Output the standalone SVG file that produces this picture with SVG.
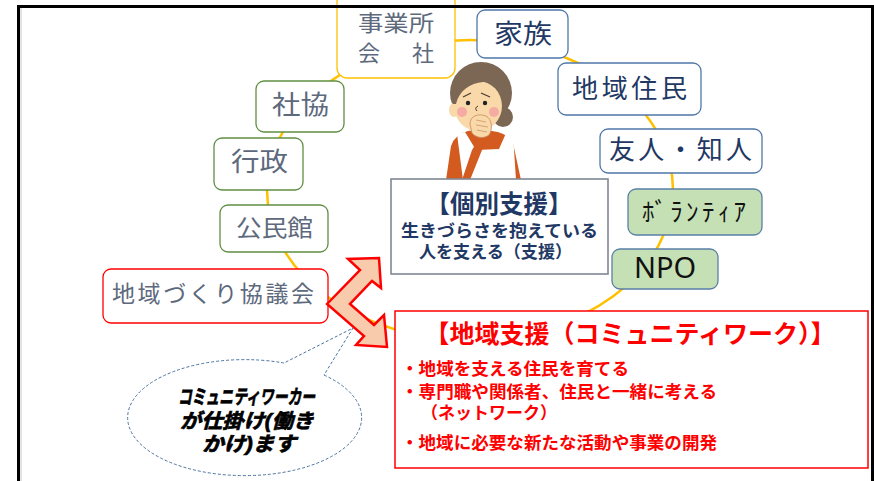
<svg xmlns="http://www.w3.org/2000/svg" width="874" height="481" viewBox="0 0 874 481">
  <style>
    .jp { font-family: "Liberation Sans", "Noto Sans CJK JP", sans-serif; }
    .box-gray { fill: #ffffff; stroke: #ffc000; stroke-width: 1.3; }
    .box-green { fill: #ffffff; stroke: #5f8f40; stroke-width: 1.3; }
    .box-blue { fill: #ffffff; stroke: #4f77a8; stroke-width: 1.3; }
    .box-fill-green { fill: #c5e0b4; stroke: #5a7fa8; stroke-width: 1.3; }
    .box-red { fill: #ffffff; stroke: #ff0000; stroke-width: 1.3; }
    .t-gray { fill: #5d697c; font-size: 26px; }
    .t-navy { fill: #1f3864; font-size: 26px; }
    .t-black { fill: #111111; }
    .t-red { fill: #ff0000; font-weight: 700; }
    .t-pop { fill: #000000; stroke: #000000; stroke-width: 0.7; font-weight: 700; font-style: italic; font-size: 20px; }
    .ring { fill: none; stroke: #ffc000; stroke-width: 2.5; }
    .hair { fill: #7c6755; }
    .skin { fill: #f9d8aa; }
    .shirt { fill: #d35b20; }
  </style>

  <rect x="0" y="0" width="874" height="481" fill="#ffffff"/>

  <!-- connectors: the ring linking the resources -->
  <g id="connectors">
    <ellipse class="ring" cx="470" cy="190" rx="203" ry="150"/>
  </g>

  <!-- person with a worry -->
  <g id="person">
    <ellipse class="hair" cx="481" cy="93" rx="31" ry="31"/>
    <circle class="hair" cx="503" cy="117" r="10"/>
    <rect class="skin" x="469" y="122" width="20" height="16"/>
    <path class="shirt" d="M446,180 L451,146 Q455,134 468,131 L492,131 Q508,133 513,143 L521,180 Z"/>
    <path d="M457,134 L465,132 L476,150 L499,149 L507,131 L513,134 L516,180 L463,180 Z" fill="#ffffff"/>
    <path class="shirt" d="M462,180 L472,150 L480,137 L486,140 L478,160 L470,180 Z"/>
    <ellipse class="skin" cx="454" cy="110" rx="5" ry="7"/>
    <ellipse class="skin" cx="478" cy="106" rx="24" ry="25"/>
    <path class="hair" d="M453,104 C450,76 466,63 482,63 C500,63 512,76 510,99 C504,87 494,81 483,82 C470,83 459,91 456,104 Z"/>
    <circle cx="462" cy="112" r="5" fill="#f4a3a0" opacity="0.85"/>
    <circle cx="494" cy="112" r="5" fill="#f4a3a0" opacity="0.85"/>
    <circle cx="468" cy="103" r="2.2" fill="#222222"/>
    <circle cx="485" cy="103" r="2.2" fill="#222222"/>
    <path d="M463,97 L471,93" stroke="#4a3a2e" stroke-width="1.2" fill="none"/>
    <path d="M481,93 L490,97" stroke="#4a3a2e" stroke-width="1.2" fill="none"/>
    <path d="M478,106 Q474,108 477,111" stroke="#4a3a2e" stroke-width="1" fill="none"/>
    <path class="skin" d="M470,124 C470,116 478,113 486,116 C492,119 493,129 489,135 C484,139 476,138 472,133 Z" stroke="#c98b5c" stroke-width="0.8"/>
    <path d="M476,120 L486,122 M476,125 L488,127 M477,130 L487,132" stroke="#c98b5c" stroke-width="0.7" fill="none"/>
  </g>

  <!-- resource nodes, left side -->
  <g id="node-jigyosho">
    <rect class="box-gray" x="337" y="-12" width="118" height="90" rx="10"/>
    <text class="jp t-gray" x="358" y="31" style="font-size:22px" textLength="76" lengthAdjust="spacingAndGlyphs">事業所</text>
    <text class="jp t-gray" x="358" y="61" style="font-size:22px" textLength="76" lengthAdjust="spacing">会　社</text>
  </g>
  <g id="node-shakyo">
    <rect class="box-green" x="256" y="81" width="88" height="51" rx="8"/>
    <text class="jp t-gray" x="272" y="114" textLength="57" lengthAdjust="spacingAndGlyphs">社協</text>
  </g>
  <g id="node-gyosei">
    <rect class="box-green" x="214" y="138" width="89" height="52" rx="8"/>
    <text class="jp t-gray" x="231" y="171" textLength="57" lengthAdjust="spacingAndGlyphs">行政</text>
  </g>
  <g id="node-kominkan">
    <rect class="box-green" x="220" y="205" width="108" height="47" rx="8"/>
    <text class="jp t-gray" x="236" y="236" style="font-size:23px" textLength="77" lengthAdjust="spacingAndGlyphs">公民館</text>
  </g>
  <g id="node-kyogikai">
    <rect class="box-red" x="103" y="269" width="225" height="54" rx="8"/>
    <text class="jp t-gray" x="112" y="302" style="font-size:23px" textLength="202" lengthAdjust="spacing">地域づくり協議会</text>
  </g>

  <!-- resource nodes, right side -->
  <g id="node-kazoku">
    <rect class="box-blue" x="477" y="10" width="91" height="48" rx="8"/>
    <text class="jp t-navy" x="494" y="43" textLength="58" lengthAdjust="spacingAndGlyphs">家族</text>
  </g>
  <g id="node-jumin">
    <rect class="box-blue" x="558" y="63" width="143" height="52" rx="8"/>
    <text class="jp t-navy" x="572" y="98" textLength="115" lengthAdjust="spacing">地域住民</text>
  </g>
  <g id="node-yujin">
    <rect class="box-blue" x="600" y="129" width="162" height="44" rx="8"/>
    <text class="jp t-navy" x="609" y="159" textLength="143" lengthAdjust="spacing">友人・知人</text>
  </g>
  <g id="node-volunteer">
    <rect class="box-fill-green" x="628" y="189" width="134" height="46" rx="8"/>
    <text class="jp t-black" x="642" y="221" style="font-size:25px" textLength="104" lengthAdjust="spacing">ﾎﾞﾗﾝﾃｨｱ</text>
  </g>
  <g id="node-npo">
    <rect class="box-fill-green" x="612" y="249" width="106" height="40" rx="8"/>
    <text class="t-black" x="665" y="278" text-anchor="middle" style="font-family:'Noto Sans', sans-serif; font-size:29px">NPO</text>
  </g>

  <!-- individual support -->
  <g id="node-kobetsu">
    <rect x="391" y="179" width="217" height="95" fill="#ffffff" stroke="#7f8893" stroke-width="1.6"/>
    <text class="jp" x="499" y="213" text-anchor="middle" fill="#1f3864" font-weight="700" style="font-size:24.5px">【個別支援】</text>
    <text class="jp" x="401" y="237" fill="#1f3864" font-weight="700" style="font-size:17.5px" textLength="197" lengthAdjust="spacingAndGlyphs">生きづらさを抱えている</text>
    <text class="jp" x="419" y="258" fill="#1f3864" font-weight="700" style="font-size:17px" textLength="153" lengthAdjust="spacingAndGlyphs">人を支える（支援）</text>
  </g>

  <!-- community support -->
  <g id="node-chiiki">
    <rect x="395" y="311" width="473" height="157" fill="#ffffff" stroke="#ff0000" stroke-width="1.5"/>
    <text class="jp t-red" x="630" y="343" text-anchor="middle" style="font-size:25px">【地域支援（コミュニティワーク）】</text>
    <text class="jp t-red" x="401" y="375" style="font-size:17.5px" textLength="228" lengthAdjust="spacingAndGlyphs">・地域を支える住民を育てる</text>
    <text class="jp t-red" x="401" y="398" style="font-size:17.5px" textLength="316" lengthAdjust="spacingAndGlyphs">・専門職や関係者、住民と一緒に考える</text>
    <text class="jp t-red" x="421" y="419" style="font-size:17px" textLength="136" lengthAdjust="spacingAndGlyphs">（ネットワーク）</text>
    <text class="jp t-red" x="401" y="449" style="font-size:17.5px" textLength="316" lengthAdjust="spacingAndGlyphs">・地域に必要な新たな活動や事業の開発</text>
  </g>

  <!-- speech bubble -->
  <g id="bubble">
    <path d="M324,375 A117,58 0 1 1 284,363 L353,328 Z" fill="#ffffff" stroke="#4a72a0" stroke-width="1" stroke-dasharray="3 2"/>
    <text class="jp t-pop" x="178" y="404" textLength="137" lengthAdjust="spacingAndGlyphs">コミュニティワーカー</text>
    <text class="jp t-pop" x="180" y="428" textLength="134" lengthAdjust="spacingAndGlyphs">が仕掛け(働き</text>
    <text class="jp t-pop" x="202" y="451" textLength="94" lengthAdjust="spacingAndGlyphs">かけ)ます</text>
  </g>

  <!-- two-way bent arrow between the two kinds of support -->
  <g id="arrow">
    <polygon points="327,304 360,270 348,259 379,258 381,288 372,281 350,304 374,325 384,315 387,347 356,345 364,336" fill="#f8cbad" stroke="#ff0000" stroke-width="2.5" stroke-linejoin="miter"/>
  </g>

  <!-- outer frame -->
  <rect x="18.5" y="6.5" width="854" height="490" fill="none" stroke="#000000" stroke-width="3"/>
  <line x1="21" y1="8" x2="21" y2="481" stroke="#c8c8c8" stroke-width="1"/>
</svg>
